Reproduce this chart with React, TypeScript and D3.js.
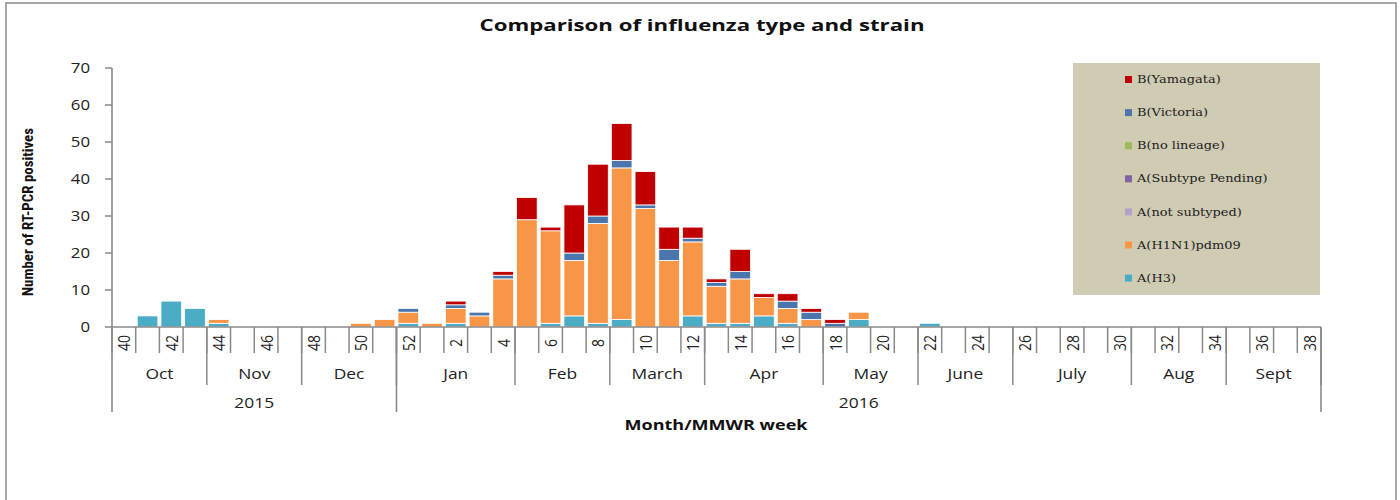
import React from 'react';
import * as d3 from 'd3';

// MMWR weeks, Oct 2015 -> Sept 2016
const weeks = [
  40, 41, 42, 43, 44, 45, 46, 47, 48, 49, 50, 51,
  52, 1, 2, 3, 4, 5, 6, 7, 8, 9, 10, 11, 12, 13, 14, 15, 16, 17,
  18, 19, 20, 21, 22, 23, 24, 25, 26, 27, 28, 29, 30,
  31, 32, 33, 34, 35, 36, 37, 38,
];
const months = ['Oct', 'Nov', 'Dec', 'Jan', 'Feb', 'March', 'Apr', 'May', 'June', 'July', 'Aug', 'Sept'];
const monthWeekCounts = [4, 4, 4, 5, 4, 4, 5, 4, 4, 5, 4, 4];
const years = ['2015', '2016'];
const yearWeekCounts = [12, 39];
const yTicks = [0, 10, 20, 30, 40, 50, 60, 70];

// stacking order, bottom -> top
const strains = [
  'A(H3)',
  'A(H1N1)pdm09',
  'A(not subtyped)',
  'A(Subtype Pending)',
  'B(no lineage)',
  'B(Victoria)',
  'B(Yamagata)',
];
const strainColors = ['#4bacc6', '#f79646', '#b3a2c7', '#8064a2', '#9bbb59', '#4a76ad', '#c00000'];

// one value per week, same order as `weeks`
const aH3 = [0, 3, 7, 5, 1, 0, 0, 0, 0, 0, 0, 0, 1, 0, 1, 0, 0, 0, 1, 3, 1, 2, 0, 0, 3, 1, 1, 3, 1, 0, 0, 2, 0, 0, 1, 0, 0, 0, 0, 0, 0, 0, 0, 0, 0, 0, 0, 0, 0, 0, 0];
const aH1N1 = [0, 0, 0, 0, 1, 0, 0, 0, 0, 0, 1, 2, 3, 1, 4, 3, 13, 29, 25, 15, 27, 41, 32, 18, 20, 10, 12, 5, 4, 2, 0, 2, 0, 0, 0, 0, 0, 0, 0, 0, 0, 0, 0, 0, 0, 0, 0, 0, 0, 0, 0];
const aNotSubtyped = [0, 0, 0, 0, 0, 0, 0, 0, 0, 0, 0, 0, 0, 0, 0, 0, 0, 0, 0, 0, 0, 0, 0, 0, 0, 0, 0, 0, 0, 0, 0, 0, 0, 0, 0, 0, 0, 0, 0, 0, 0, 0, 0, 0, 0, 0, 0, 0, 0, 0, 0];
const aPending = [0, 0, 0, 0, 0, 0, 0, 0, 0, 0, 0, 0, 0, 0, 0, 0, 0, 0, 0, 0, 0, 0, 0, 0, 0, 0, 0, 0, 0, 0, 0, 0, 0, 0, 0, 0, 0, 0, 0, 0, 0, 0, 0, 0, 0, 0, 0, 0, 0, 0, 0];
const bNoLineage = [0, 0, 0, 0, 0, 0, 0, 0, 0, 0, 0, 0, 0, 0, 0, 0, 0, 0, 0, 0, 0, 0, 0, 0, 0, 0, 0, 0, 0, 0, 0, 0, 0, 0, 0, 0, 0, 0, 0, 0, 0, 0, 0, 0, 0, 0, 0, 0, 0, 0, 0];
const bVictoria = [0, 0, 0, 0, 0, 0, 0, 0, 0, 0, 0, 0, 1, 0, 1, 1, 1, 0, 0, 2, 2, 2, 1, 3, 1, 1, 2, 0, 2, 2, 1, 0, 0, 0, 0, 0, 0, 0, 0, 0, 0, 0, 0, 0, 0, 0, 0, 0, 0, 0, 0];
const bYamagata = [0, 0, 0, 0, 0, 0, 0, 0, 0, 0, 0, 0, 0, 0, 1, 0, 1, 6, 1, 13, 14, 10, 9, 6, 3, 1, 6, 1, 2, 1, 1, 0, 0, 0, 0, 0, 0, 0, 0, 0, 0, 0, 0, 0, 0, 0, 0, 0, 0, 0, 0];

const series = [aH3, aH1N1, aNotSubtyped, aPending, bNoLineage, bVictoria, bYamagata];

const W = 1400;
const H = 500;
const plot = { left: 112, right: 1321, top: 68, bottom: 327 };
const SX = 1.2; // the source text is drawn a little wide
const sans = "'Open Sans', 'DejaVu Sans', sans-serif";
const axisGray = '#8a8a8a';

const rows = weeks.map((w, i) => {
  const r: Record<string, number> = { week: w };
  strains.forEach((s, k) => (r[s] = series[k][i]));
  return r;
});

const Wide = ({ x, y, children, ...rest }: any) => (
  <text transform={`translate(${x},${y}) scale(${SX},1)`} {...rest}>
    {children}
  </text>
);

export default function App() {
  const x = d3
    .scaleBand<number>()
    .domain(weeks)
    .range([plot.left, plot.right])
    .paddingInner(0.13)
    .paddingOuter(0.065);
  const y = d3.scaleLinear().domain([0, 70]).range([plot.bottom, plot.top]);
  const step = x.step();
  const edge = (i: number) => plot.left + i * step;

  const stacked = d3.stack<any>().keys(strains)(rows);

  const monthEdges = Array.from(d3.cumsum(monthWeekCounts));
  const monthStarts = [0, ...monthEdges.slice(0, -1)];
  const yearEdges = Array.from(d3.cumsum(yearWeekCounts));
  const yearStarts = [0, ...yearEdges.slice(0, -1)];

  const legend = { x: 1073, y: 63, w: 247, h: 232 };
  const legendItems = strains.map((s, i) => ({ s, c: strainColors[i] })).reverse();

  return (
    <svg
      width={W}
      height={H}
      style={{ position: 'absolute', left: 0, top: 0, display: 'block', background: '#fff' }}
    >
      <rect x={6} y={3} width={1390} height={520} fill="#fff" stroke="#8c8c8c" strokeWidth={1.5} />

      <text
        x={702}
        y={31}
        textAnchor="middle"
        fontFamily={sans}
        fontWeight="bold"
        fontSize={16}
        textLength={445}
        lengthAdjust="spacingAndGlyphs"
        fill="#111"
      >
        Comparison of influenza type and strain
      </text>

      {/* y axis */}
      <line x1={plot.left} x2={plot.left} y1={plot.top} y2={412} stroke={axisGray} strokeWidth={1.6} />
      {yTicks.map((t) => (
        <g key={t}>
          <line x1={plot.left - 7} x2={plot.left} y1={y(t)} y2={y(t)} stroke={axisGray} strokeWidth={1.5} />
          <Wide x={90} y={y(t)} textAnchor="end" dominantBaseline="central" fontFamily={sans} fontSize={14} fill="#222">
            {t}
          </Wide>
        </g>
      ))}
      <text
        transform="translate(33,212) rotate(-90)"
        textAnchor="middle"
        fontFamily="'Liberation Sans Narrow', 'Arial Narrow', 'Roboto Condensed', sans-serif"
        fontWeight="bold"
        fontSize={14}
        textLength={168}
        lengthAdjust="spacingAndGlyphs"
        fill="#111"
      >
        Number of RT-PCR positives
      </text>

      {/* bars */}
      {stacked.map((layer, k) => (
        <g key={layer.key} fill={strainColors[k]}>
          {layer.map((d, i) =>
            d[1] - d[0] > 0 ? (
              <rect
                key={i}
                x={x(weeks[i])}
                width={x.bandwidth()}
                y={y(d[1])}
                height={y(d[0]) - y(d[1])}
                stroke="#fff"
                strokeWidth={0.8}
              />
            ) : null
          )}
        </g>
      ))}

      {/* x axis: weeks, months, years */}
      <line x1={plot.left} x2={plot.right} y1={plot.bottom} y2={plot.bottom} stroke={axisGray} strokeWidth={1.6} />
      {weeks.map((w, i) => (
        <line key={'wt' + i} x1={edge(i)} x2={edge(i)} y1={plot.bottom} y2={353} stroke={axisGray} strokeWidth={1.5} />
      ))}
      {weeks.map((w, i) =>
        w % 2 === 0 ? (
          <text
            key={'wl' + i}
            transform={`translate(${(x(w) as number) + x.bandwidth() / 2},343) rotate(-90) scale(1,${SX})`}
            textAnchor="middle"
            dominantBaseline="central"
            fontFamily={sans}
            fontSize={14}
            fill="#222"
          >
            {w}
          </text>
        ) : null
      )}
      {monthEdges.map((e, i) => (
        <line key={'me' + i} x1={edge(e)} x2={edge(e)} y1={plot.bottom} y2={385} stroke={axisGray} strokeWidth={1.5} />
      ))}
      {months.map((m, i) => (
        <Wide
          key={m}
          x={(edge(monthStarts[i]) + edge(monthEdges[i])) / 2}
          y={374}
          textAnchor="middle"
          dominantBaseline="central"
          fontFamily={sans}
          fontSize={14.5}
          fill="#222"
        >
          {m}
        </Wide>
      ))}
      {yearEdges.map((e, i) => (
        <line key={'ye' + i} x1={edge(e)} x2={edge(e)} y1={plot.bottom} y2={412} stroke={axisGray} strokeWidth={1.6} />
      ))}
      {years.map((yr, i) => (
        <Wide
          key={yr}
          x={(edge(yearStarts[i]) + edge(yearEdges[i])) / 2}
          y={403}
          textAnchor="middle"
          dominantBaseline="central"
          fontFamily={sans}
          fontSize={14.5}
          fill="#222"
        >
          {yr}
        </Wide>
      ))}
      <text
        x={716}
        y={430}
        textAnchor="middle"
        fontFamily={sans}
        fontWeight="bold"
        fontSize={14}
        textLength={183}
        lengthAdjust="spacingAndGlyphs"
        fill="#111"
      >
        Month/MMWR week
      </text>

      {/* legend */}
      <rect x={legend.x} y={legend.y} width={legend.w} height={legend.h} fill="#d0cbb3" />
      {legendItems.map((it, i) => {
        const cy = 79.5 + i * 33.1;
        return (
          <g key={it.s}>
            <rect x={1125} y={cy - 3.5} width={7} height={7} fill={it.c} />
            <Wide x={1137} y={cy} dominantBaseline="central" fontFamily="'DejaVu Serif', serif" fontSize={10.8} fill="#222">
              {it.s}
            </Wide>
          </g>
        );
      })}
    </svg>
  );
}
